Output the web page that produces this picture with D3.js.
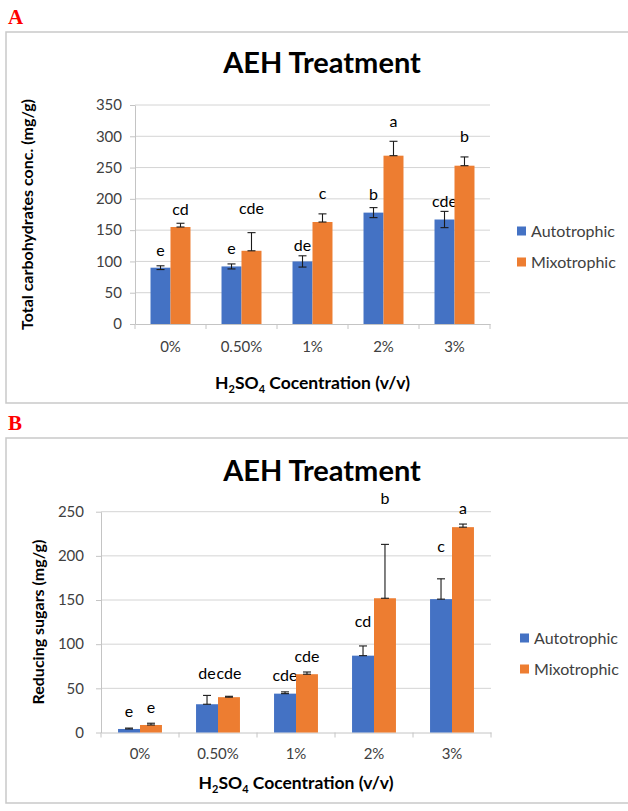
<!DOCTYPE html>
<html><head><meta charset="utf-8">
<script src="https://cdn.jsdelivr.net/npm/d3@7"></script>
<style>
body{margin:0;background:#fff;}
svg{display:block;font-family:Lato,"Open Sans",sans-serif;}
</style></head>
<body>
<svg id="chart" width="628" height="811"></svg>
<script>
// ---------- data ----------
const categories = ["0%", "0.50%", "1%", "2%", "3%"];
const seriesNames = ["Autotrophic", "Mixotrophic"];

// Panel A: Total carbohydrates conc. (mg/g)
const autoCarb = [90, 92, 100, 178, 167];
const mixoCarb = [155, 117, 163, 269, 253];
const autoCarbErr = [3, 4, 9, 8, 13];
const mixoCarbErr = [6, 29, 13, 23, 14];
const autoCarbLetters = ["e", "e", "de", "b", "cde"];
const mixoCarbLetters = ["cd", "cde", "c", "a", "b"];
const autoCarbLetterAt = [109, 112, 117, 198, 187];
const mixoCarbLetterAt = [174, 176, 200, 315, 291];
const carbTicks = [0, 50, 100, 150, 200, 250, 300, 350];

// Panel B: Reducing sugars (mg/g)
const autoSugar = [4, 32, 44, 87, 151];
const mixoSugar = [8.5, 40, 66, 152, 232.5];
const autoSugarErr = [1, 10, 2, 11, 23];
const mixoSugarErr = [2, 1, 2.5, 61, 3.5];
const autoSugarLetters = ["e", "de", "cde", "cd", "c"];
const mixoSugarLetters = ["e", "cde", "cde", "b", "a"];
const autoSugarLetterAt = [18, 60.5, 58.6, 119, 204.5];
const mixoSugarLetterAt = [22.4, 60.5, 80, 259, 247];
const sugarTicks = [0, 50, 100, 150, 200, 250];

const colors = ["#4472C4", "#ED7D31"];

const svg = d3.select("#chart");

function panel(cfg) {
  const g = svg.append("g");
  // frame
  g.append("rect").attr("x", cfg.box[0]).attr("y", cfg.box[1])
    .attr("width", cfg.box[2]).attr("height", cfg.box[3])
    .attr("fill", "#fff").attr("stroke", "#c9c9c9").attr("stroke-width", 1.5);
  // panel letter
  g.append("text").attr("x", 8).attr("y", cfg.box[1] - 8)
    .attr("font-family", "'Liberation Serif','DejaVu Serif',serif")
    .attr("font-weight", "bold").attr("font-size", 21).attr("fill", "#ff0000")
    .text(cfg.letter);
  // title
  g.append("text").attr("x", cfg.titleX).attr("y", cfg.titleY)
    .attr("text-anchor", "middle").attr("font-weight", "bold")
    .attr("font-size", 29).attr("fill", "#000").text("AEH Treatment");

  const y = d3.scaleLinear().domain([0, d3.max(cfg.ticks)]).range([cfg.bottom, cfg.top]);
  const x = d3.scaleBand().domain(categories).range([cfg.left, cfg.right])
    .paddingInner(cfg.pad).paddingOuter(cfg.pad / 2);
  const xs = d3.scaleBand().domain(seriesNames).range([0, x.bandwidth()]);

  // gridlines
  g.append("g").selectAll("line").data(cfg.ticks.filter(t => t > 0)).join("line")
    .attr("x1", cfg.left).attr("x2", cfg.right)
    .attr("y1", d => y(d)).attr("y2", d => y(d))
    .attr("stroke", "#d4d4d4").attr("stroke-width", 1);

  // y axis
  const ya = g.append("g").attr("transform", `translate(${cfg.left},0)`)
    .call(d3.axisLeft(y).tickValues(cfg.ticks).tickSize(5).tickPadding(cfg.tickPad).tickSizeOuter(0));
  ya.select(".domain").attr("stroke", "#c4c4c4");
  ya.selectAll(".tick line").attr("stroke", "#c4c4c4");
  ya.selectAll(".tick text").attr("font-family", "Lato,sans-serif").attr("font-size", 15).attr("fill", "#404040");

  // x axis
  const xa = g.append("g").attr("transform", `translate(0,${cfg.bottom})`)
    .call(d3.axisBottom(x).tickSize(0).tickPadding(cfg.xLabPad));
  xa.select(".domain").attr("stroke", "#c4c4c4");
  xa.selectAll(".tick text").attr("font-family", "Lato,sans-serif").attr("font-size", 15).attr("fill", "#404040");
  // category boundary ticks
  const step = x.step();
  g.append("g").selectAll("line").data(d3.range(categories.length + 1)).join("line")
    .attr("x1", i => cfg.left + i * step).attr("x2", i => cfg.left + i * step)
    .attr("y1", cfg.bottom).attr("y2", cfg.bottom + 5)
    .attr("stroke", "#c4c4c4");

  const series = [
    {name: seriesNames[0], vals: cfg.auto, err: cfg.autoErr, both: cfg.autoBoth, letters: cfg.autoLetters, at: cfg.autoAt},
    {name: seriesNames[1], vals: cfg.mixo, err: cfg.mixoErr, both: cfg.mixoBoth, letters: cfg.mixoLetters, at: cfg.mixoAt}
  ];
  series.forEach((s, si) => {
    const bx = (i) => x(categories[i]) + xs(s.name);
    const cx = (i) => bx(i) + xs.bandwidth() / 2;
    g.append("g").selectAll("rect").data(s.vals).join("rect")
      .attr("x", (d, i) => bx(i)).attr("width", xs.bandwidth())
      .attr("y", d => y(d)).attr("height", d => y(0) - y(d))
      .attr("fill", colors[si]);
    // error bars
    const eg = g.append("g").attr("stroke", "#1a1a1a").attr("stroke-width", 1.1);
    s.vals.forEach((v, i) => {
      const hi = y(v + s.err[i]);
      const lo = s.both ? y(v - s.err[i]) : y(v);
      eg.append("line").attr("x1", cx(i)).attr("x2", cx(i)).attr("y1", hi).attr("y2", lo);
      eg.append("line").attr("x1", cx(i) - 4).attr("x2", cx(i) + 4).attr("y1", hi).attr("y2", hi);
      eg.append("line").attr("x1", cx(i) - 4).attr("x2", cx(i) + 4).attr("y1", lo).attr("y2", lo);
    });
    // significance letters
    g.append("g").selectAll("text").data(s.letters).join("text")
      .attr("x", (d, i) => cx(i)).attr("y", (d, i) => y(s.at[i]))
      .attr("text-anchor", "middle").attr("font-size", 16).attr("fill", "#000")
      .text(d => d);
  });

  // axis titles
  const xt = g.append("text").attr("x", (cfg.left + cfg.right) / 2).attr("y", cfg.xTitleY)
    .attr("text-anchor", "middle").attr("font-weight", "bold").attr("font-size", 17.5).attr("fill", "#000");
  xt.append("tspan").text("H");
  xt.append("tspan").attr("font-size", 11).attr("dy", 4).text("2");
  xt.append("tspan").attr("dy", -4).text("SO");
  xt.append("tspan").attr("font-size", 11).attr("dy", 4).text("4");
  xt.append("tspan").attr("dy", -4).text(" Cocentration (v/v)");

  g.append("text").attr("transform", `translate(${cfg.yTitleX},${(cfg.top + cfg.bottom) / 2}) rotate(-90)`)
    .attr("text-anchor", "middle").attr("font-weight", "bold").attr("font-size", cfg.yTitleSize).attr("fill", "#000")
    .text(cfg.yTitle);

  // legend
  const lg = g.append("g");
  seriesNames.forEach((n, i) => {
    const ly = cfg.legendY + i * 31;
    lg.append("rect").attr("x", cfg.legendX).attr("y", ly - 4.5).attr("width", 9).attr("height", 9).attr("fill", colors[i]);
    lg.append("text").attr("x", cfg.legendX + 14).attr("y", ly + 5.5).attr("font-size", 16).attr("fill", "#404040").text(n);
  });
}

panel({
  letter: "A", box: [6, 32, 628, 371], titleX: 322, titleY: 73,
  left: 135, right: 490, top: 105, bottom: 324, pad: 0.437,
  ticks: carbTicks, tickPad: 8, xLabPad: 17, xTitleY: 389, yTitleX: 33,
  yTitle: "Total carbohydrates conc. (mg/g)", yTitleSize: 16,
  auto: autoCarb, mixo: mixoCarb, autoErr: autoCarbErr, mixoErr: mixoCarbErr,
  autoBoth: true, mixoBoth: false,
  autoLetters: autoCarbLetters, mixoLetters: mixoCarbLetters,
  autoAt: autoCarbLetterAt, mixoAt: mixoCarbLetterAt,
  legendX: 517, legendY: 231
});

panel({
  letter: "B", box: [6, 438, 628, 365], titleX: 322, titleY: 481,
  left: 101, right: 491, top: 511.7, bottom: 732.5, pad: 0.437,
  ticks: sugarTicks, tickPad: 12, xLabPad: 16, xTitleY: 789, yTitleX: 44,
  yTitle: "Reducing sugars (mg/g)", yTitleSize: 16,
  auto: autoSugar, mixo: mixoSugar, autoErr: autoSugarErr, mixoErr: mixoSugarErr,
  autoBoth: false, mixoBoth: false,
  autoLetters: autoSugarLetters, mixoLetters: mixoSugarLetters,
  autoAt: autoSugarLetterAt, mixoAt: mixoSugarLetterAt,
  legendX: 520, legendY: 638
});
</script>
</body></html>
